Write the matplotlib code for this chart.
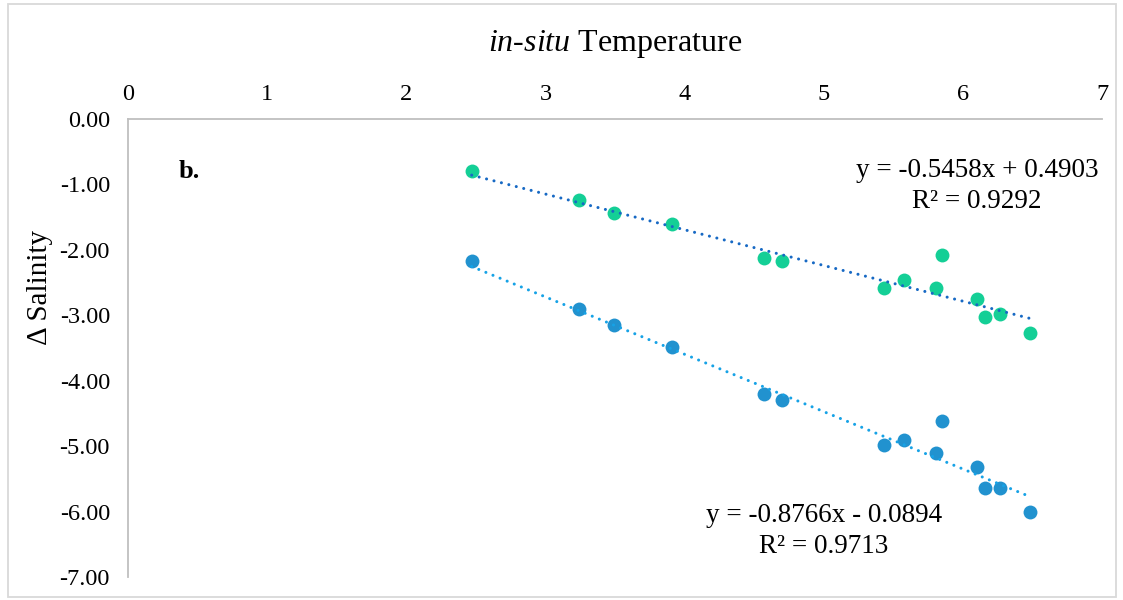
import matplotlib
matplotlib.use("Agg")
from matplotlib import pyplot as plt
from matplotlib.patches import Rectangle
import numpy as np

# in-situ temperature (shared by both series)
temperature = [2.47, 3.24, 3.49, 3.91, 4.57, 4.70, 5.43, 5.58, 5.81, 5.85, 6.10, 6.16, 6.27, 6.48]
# delta salinity, upper (green) series
salinity_a = [-0.79, -1.24, -1.44, -1.61, -2.13, -2.17, -2.58, -2.46, -2.58, -2.08, -2.75, -3.03, -2.98, -3.27]
# delta salinity, lower (blue) series
salinity_b = [-2.17, -2.91, -3.15, -3.48, -4.21, -4.30, -4.99, -4.91, -5.11, -4.62, -5.32, -5.64, -5.64, -6.01]

# trendline coefficients (slope, intercept) and R²
fit_a = (-0.5458, 0.4903, 0.9292)
fit_b = (-0.8766, -0.0894, 0.9713)

x_ticks = [0, 1, 2, 3, 4, 5, 6, 7]
y_ticks = [0, -1, -2, -3, -4, -5, -6, -7]

plt.rcParams['font.family'] = ['Liberation Serif', 'DejaVu Serif']
plt.rcParams['mathtext.fontset'] = 'custom'
plt.rcParams['mathtext.rm'] = 'Liberation Serif'
plt.rcParams['mathtext.it'] = 'Liberation Serif:italic'

fig = plt.figure(figsize=(11.23, 6.0), dpi=100)
ax = fig.add_axes([128 / 1123, 23 / 600, 974 / 1123, 458 / 600])

green = '#14cf96'
blue = '#2192cf'

ax.scatter(temperature, salinity_a, s=100, color=green, zorder=3, linewidths=0)
ax.scatter(temperature, salinity_b, s=100, color=blue, zorder=3, linewidths=0)

xs = np.array([min(temperature), max(temperature)])
for (m, c, r2), col in [(fit_a, '#1769c4'), (fit_b, '#16a2e6')]:
    ax.plot(xs, m * xs + c, color=col, lw=2.2, linestyle=(0, (0.01, 2.5)),
            dash_capstyle='round', zorder=4)

ax.text(6.10, -1.02, "y = %.4fx + %.4f\nR² = %.4f" % fit_a, ha='center', va='center',
        multialignment='center', fontsize=19.5, linespacing=1.3)
ax.text(5.00, -6.30, "y = %.4fx - %.4f\nR² = %.4f" % (fit_b[0], -fit_b[1], fit_b[2]),
        ha='center', va='center', multialignment='center', fontsize=19.5, linespacing=1.3)
ax.text(0.44, -0.80, "b.", ha='center', va='center', fontsize=19, fontweight='bold')

ax.set_xlim(0, 7)
ax.set_ylim(-7, 0)
ax.set_xticks(x_ticks)
ax.set_yticks(y_ticks)
ax.set_yticklabels(["%.2f" % v for v in y_ticks])
ax.xaxis.tick_top()
ax.tick_params(axis='both', length=0, labelsize=17.5)
ax.tick_params(axis='x', pad=10)
ax.tick_params(axis='y', pad=13)

for side in ['right', 'bottom']:
    ax.spines[side].set_visible(False)
for side in ['top', 'left']:
    ax.spines[side].set_color('#bfbfbf')
    ax.spines[side].set_linewidth(1.3)

ax.xaxis.set_label_position('top')
ax.set_xlabel(r'$\mathit{in}$-$\mathit{situ}$ Temperature', fontsize=23)
ax.xaxis.label.set_va('center')
ax.xaxis.set_label_coords(0.5, 1 + 75 / 458)
ax.set_ylabel('Δ Salinity', fontsize=21)
ax.yaxis.label.set_va('center')
ax.yaxis.set_label_coords(-88 / 974, 290 / 458)

fig.patches.append(Rectangle((8 / 1123, 3 / 600), 1108 / 1123, 593 / 600, transform=fig.transFigure,
                             fill=False, edgecolor='#d9d9d9', lw=1.3))

fig.savefig('out.png', dpi=100)
